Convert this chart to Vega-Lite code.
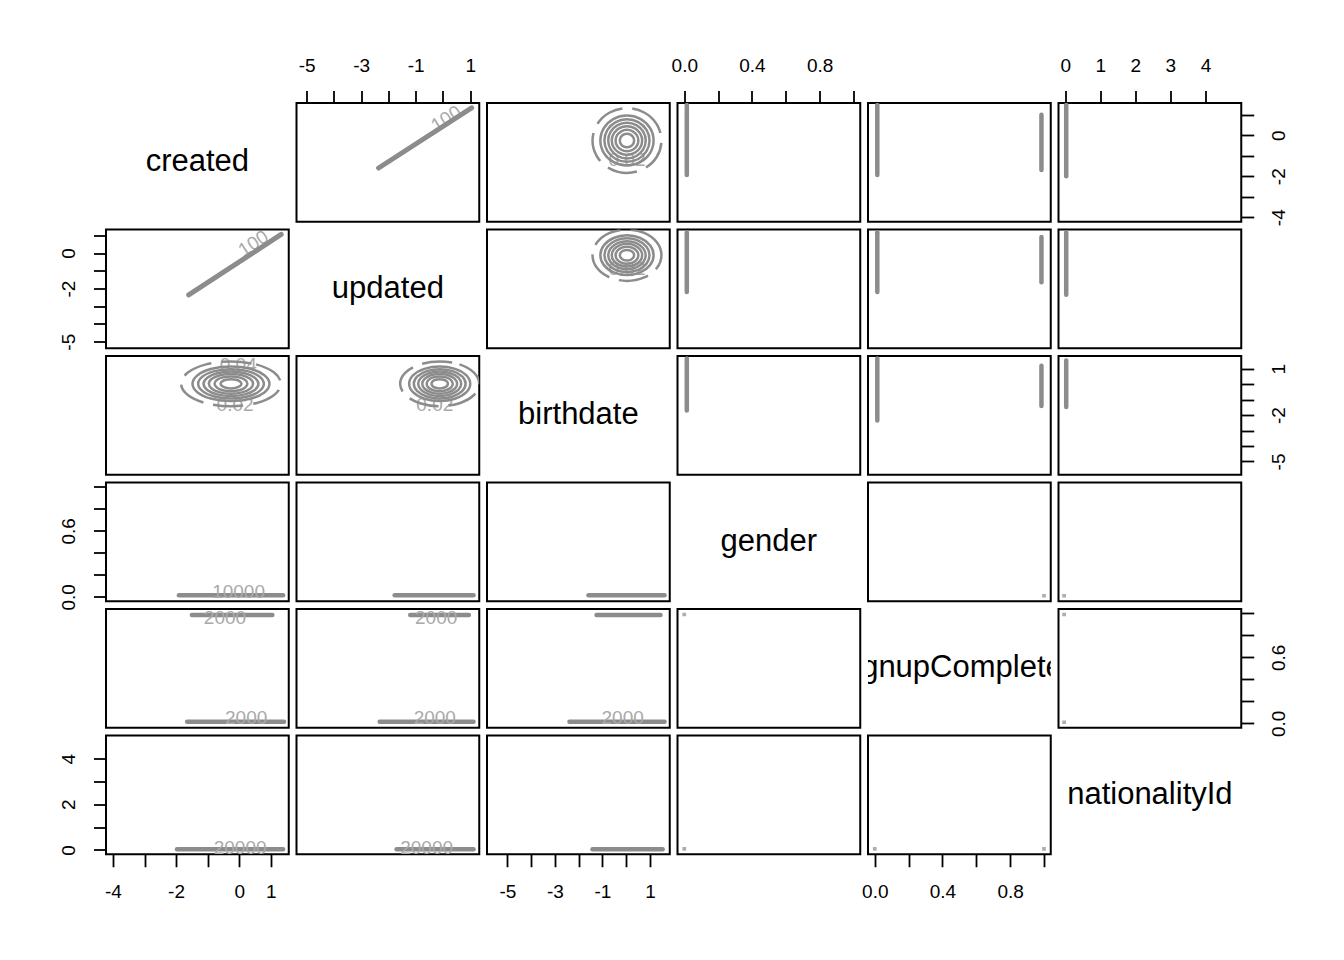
{
"$schema": "https://vega.github.io/schema/vega-lite/v6.json",
"background": "white",
"padding": {"left": 58, "top": 55, "right": 10, "bottom": 10},
"config": {
  "view": {"stroke": "black", "strokeWidth": 2},
  "axis": {"domain": false, "grid": false, "ticks": true, "tickColor": "black", "tickWidth": 1.8, "tickSize": 12.5, "labelFont": "Liberation Sans", "labelFontSize": 19, "labelColor": "black", "labelFlush": false, "labelOverlap": false}
},
"columns": 6,
"bounds": "flush",
"spacing": 7.5,
"resolve": {"scale": {"x": "independent", "y": "independent"}},
"datasets": {
  "vars": [{"name": "created"}, {"name": "updated"}, {"name": "birthdate"}, {"name": "gender"}, {"name": "signupCompleted"}, {"name": "nationalityId"}],
  "uc": [{"u": -2.36, "c": -1.6}, {"u": 1.05, "c": 1.33}],
  "rings_bc": [
    {"r":1,"i":0,"b":0.33,"c":-0.26},{"r":1,"i":1,"b":0.29,"c":-0.095},{"r":1,"i":2,"b":0.18,"c":0.026},{"r":1,"i":3,"b":0.03,"c":0.07},{"r":1,"i":4,"b":-0.12,"c":0.026},{"r":1,"i":5,"b":-0.23,"c":-0.095},{"r":1,"i":6,"b":-0.27,"c":-0.26},{"r":1,"i":7,"b":-0.23,"c":-0.425},{"r":1,"i":8,"b":-0.12,"c":-0.546},{"r":1,"i":9,"b":0.03,"c":-0.59},{"r":1,"i":10,"b":0.18,"c":-0.546},{"r":1,"i":11,"b":0.29,"c":-0.425},
    {"r":2,"i":0,"b":0.51,"c":-0.26},{"r":2,"i":1,"b":0.446,"c":0.0},{"r":2,"i":2,"b":0.27,"c":0.19},{"r":2,"i":3,"b":0.03,"c":0.26},{"r":2,"i":4,"b":-0.21,"c":0.19},{"r":2,"i":5,"b":-0.386,"c":0.0},{"r":2,"i":6,"b":-0.45,"c":-0.26},{"r":2,"i":7,"b":-0.386,"c":-0.52},{"r":2,"i":8,"b":-0.21,"c":-0.71},{"r":2,"i":9,"b":0.03,"c":-0.78},{"r":2,"i":10,"b":0.27,"c":-0.71},{"r":2,"i":11,"b":0.446,"c":-0.52},
    {"r":3,"i":0,"b":0.67,"c":-0.26},{"r":3,"i":1,"b":0.584,"c":0.09},{"r":3,"i":2,"b":0.35,"c":0.346},{"r":3,"i":3,"b":0.03,"c":0.44},{"r":3,"i":4,"b":-0.29,"c":0.346},{"r":3,"i":5,"b":-0.524,"c":0.09},{"r":3,"i":6,"b":-0.61,"c":-0.26},{"r":3,"i":7,"b":-0.524,"c":-0.61},{"r":3,"i":8,"b":-0.29,"c":-0.866},{"r":3,"i":9,"b":0.03,"c":-0.96},{"r":3,"i":10,"b":0.35,"c":-0.866},{"r":3,"i":11,"b":0.584,"c":-0.61},
    {"r":4,"i":0,"b":0.82,"c":-0.26},{"r":4,"i":1,"b":0.714,"c":0.175},{"r":4,"i":2,"b":0.425,"c":0.493},{"r":4,"i":3,"b":0.03,"c":0.61},{"r":4,"i":4,"b":-0.365,"c":0.493},{"r":4,"i":5,"b":-0.654,"c":0.175},{"r":4,"i":6,"b":-0.76,"c":-0.26},{"r":4,"i":7,"b":-0.654,"c":-0.695},{"r":4,"i":8,"b":-0.365,"c":-1.013},{"r":4,"i":9,"b":0.03,"c":-1.13},{"r":4,"i":10,"b":0.425,"c":-1.013},{"r":4,"i":11,"b":0.714,"c":-0.695},
    {"r":5,"i":0,"b":0.98,"c":-0.26},{"r":5,"i":1,"b":0.853,"c":0.26},{"r":5,"i":2,"b":0.505,"c":0.641},{"r":5,"i":3,"b":0.03,"c":0.78},{"r":5,"i":4,"b":-0.445,"c":0.641},{"r":5,"i":5,"b":-0.793,"c":0.26},{"r":5,"i":6,"b":-0.92,"c":-0.26},{"r":5,"i":7,"b":-0.793,"c":-0.78},{"r":5,"i":8,"b":-0.445,"c":-1.161},{"r":5,"i":9,"b":0.03,"c":-1.3},{"r":5,"i":10,"b":0.505,"c":-1.161},{"r":5,"i":11,"b":0.853,"c":-0.78},
    {"r":6,"i":0,"b":1.15,"c":-0.26},{"r":6,"i":1,"b":1.0,"c":0.35},{"r":6,"i":2,"b":0.59,"c":0.797},{"r":6,"i":3,"b":0.03,"c":0.96},{"r":6,"i":4,"b":-0.53,"c":0.797},{"r":6,"i":5,"b":-0.94,"c":0.35},{"r":6,"i":6,"b":-1.09,"c":-0.26},{"r":6,"i":7,"b":-0.94,"c":-0.87},{"r":6,"i":8,"b":-0.53,"c":-1.317},{"r":6,"i":9,"b":0.03,"c":-1.48},{"r":6,"i":10,"b":0.59,"c":-1.317},{"r":6,"i":11,"b":1.0,"c":-0.87},
    {"r":7,"i":0,"b":1.48,"c":-0.26},{"r":7,"i":1,"b":1.286,"c":0.53},{"r":7,"i":2,"b":0.755,"c":1.108},{"r":7,"i":3,"b":0.03,"c":1.32},{"r":7,"i":4,"b":-0.695,"c":1.108},{"r":7,"i":5,"b":-1.226,"c":0.53},{"r":7,"i":6,"b":-1.42,"c":-0.26},{"r":7,"i":7,"b":-1.226,"c":-1.05},{"r":7,"i":8,"b":-0.695,"c":-1.628},{"r":7,"i":9,"b":0.03,"c":-1.84},{"r":7,"i":10,"b":0.755,"c":-1.628},{"r":7,"i":11,"b":1.286,"c":-1.05}
  ],
  "rings_bu": [
    {"r":1,"i":0,"b":0.33,"u":-0.12},{"r":1,"i":1,"b":0.29,"u":0.03},{"r":1,"i":2,"b":0.18,"u":0.14},{"r":1,"i":3,"b":0.03,"u":0.18},{"r":1,"i":4,"b":-0.12,"u":0.14},{"r":1,"i":5,"b":-0.23,"u":0.03},{"r":1,"i":6,"b":-0.27,"u":-0.12},{"r":1,"i":7,"b":-0.23,"u":-0.27},{"r":1,"i":8,"b":-0.12,"u":-0.38},{"r":1,"i":9,"b":0.03,"u":-0.42},{"r":1,"i":10,"b":0.18,"u":-0.38},{"r":1,"i":11,"b":0.29,"u":-0.27},
    {"r":2,"i":0,"b":0.51,"u":-0.12},{"r":2,"i":1,"b":0.446,"u":0.12},{"r":2,"i":2,"b":0.27,"u":0.296},{"r":2,"i":3,"b":0.03,"u":0.36},{"r":2,"i":4,"b":-0.21,"u":0.296},{"r":2,"i":5,"b":-0.386,"u":0.12},{"r":2,"i":6,"b":-0.45,"u":-0.12},{"r":2,"i":7,"b":-0.386,"u":-0.36},{"r":2,"i":8,"b":-0.21,"u":-0.536},{"r":2,"i":9,"b":0.03,"u":-0.6},{"r":2,"i":10,"b":0.27,"u":-0.536},{"r":2,"i":11,"b":0.446,"u":-0.36},
    {"r":3,"i":0,"b":0.67,"u":-0.12},{"r":3,"i":1,"b":0.584,"u":0.2},{"r":3,"i":2,"b":0.35,"u":0.434},{"r":3,"i":3,"b":0.03,"u":0.52},{"r":3,"i":4,"b":-0.29,"u":0.434},{"r":3,"i":5,"b":-0.524,"u":0.2},{"r":3,"i":6,"b":-0.61,"u":-0.12},{"r":3,"i":7,"b":-0.524,"u":-0.44},{"r":3,"i":8,"b":-0.29,"u":-0.674},{"r":3,"i":9,"b":0.03,"u":-0.76},{"r":3,"i":10,"b":0.35,"u":-0.674},{"r":3,"i":11,"b":0.584,"u":-0.44},
    {"r":4,"i":0,"b":0.82,"u":-0.12},{"r":4,"i":1,"b":0.714,"u":0.275},{"r":4,"i":2,"b":0.425,"u":0.564},{"r":4,"i":3,"b":0.03,"u":0.67},{"r":4,"i":4,"b":-0.365,"u":0.564},{"r":4,"i":5,"b":-0.654,"u":0.275},{"r":4,"i":6,"b":-0.76,"u":-0.12},{"r":4,"i":7,"b":-0.654,"u":-0.515},{"r":4,"i":8,"b":-0.365,"u":-0.804},{"r":4,"i":9,"b":0.03,"u":-0.91},{"r":4,"i":10,"b":0.425,"u":-0.804},{"r":4,"i":11,"b":0.714,"u":-0.515},
    {"r":5,"i":0,"b":0.98,"u":-0.12},{"r":5,"i":1,"b":0.853,"u":0.355},{"r":5,"i":2,"b":0.505,"u":0.703},{"r":5,"i":3,"b":0.03,"u":0.83},{"r":5,"i":4,"b":-0.445,"u":0.703},{"r":5,"i":5,"b":-0.793,"u":0.355},{"r":5,"i":6,"b":-0.92,"u":-0.12},{"r":5,"i":7,"b":-0.793,"u":-0.595},{"r":5,"i":8,"b":-0.445,"u":-0.943},{"r":5,"i":9,"b":0.03,"u":-1.07},{"r":5,"i":10,"b":0.505,"u":-0.943},{"r":5,"i":11,"b":0.853,"u":-0.595},
    {"r":6,"i":0,"b":1.15,"u":-0.12},{"r":6,"i":1,"b":1.0,"u":0.44},{"r":6,"i":2,"b":0.59,"u":0.85},{"r":6,"i":3,"b":0.03,"u":1.0},{"r":6,"i":4,"b":-0.53,"u":0.85},{"r":6,"i":5,"b":-0.94,"u":0.44},{"r":6,"i":6,"b":-1.09,"u":-0.12},{"r":6,"i":7,"b":-0.94,"u":-0.68},{"r":6,"i":8,"b":-0.53,"u":-1.09},{"r":6,"i":9,"b":0.03,"u":-1.24},{"r":6,"i":10,"b":0.59,"u":-1.09},{"r":6,"i":11,"b":1.0,"u":-0.68},
    {"r":7,"i":0,"b":1.48,"u":-0.12},{"r":7,"i":1,"b":1.286,"u":0.605},{"r":7,"i":2,"b":0.755,"u":1.136},{"r":7,"i":3,"b":0.03,"u":1.33},{"r":7,"i":4,"b":-0.695,"u":1.136},{"r":7,"i":5,"b":-1.226,"u":0.605},{"r":7,"i":6,"b":-1.42,"u":-0.12},{"r":7,"i":7,"b":-1.226,"u":-0.845},{"r":7,"i":8,"b":-0.695,"u":-1.376},{"r":7,"i":9,"b":0.03,"u":-1.57},{"r":7,"i":10,"b":0.755,"u":-1.376},{"r":7,"i":11,"b":1.286,"u":-0.845}
  ],
  "blobs": [
    {"panel":"1-4","seg":1,"xv":0.015,"yv":-1.94},{"panel":"1-4","seg":1,"xv":0.015,"yv":1.47},
    {"panel":"1-5","seg":1,"xv":0.015,"yv":-1.94},{"panel":"1-5","seg":1,"xv":0.015,"yv":1.47},
    {"panel":"1-5","seg":2,"xv":0.985,"yv":-1.7},{"panel":"1-5","seg":2,"xv":0.985,"yv":1.0},
    {"panel":"1-6","seg":1,"xv":0.03,"yv":-2.0},{"panel":"1-6","seg":1,"xv":0.03,"yv":1.47},
    {"panel":"2-4","seg":1,"xv":0.015,"yv":-2.2},{"panel":"2-4","seg":1,"xv":0.015,"yv":1.18},
    {"panel":"2-5","seg":1,"xv":0.015,"yv":-2.2},{"panel":"2-5","seg":1,"xv":0.015,"yv":1.18},
    {"panel":"2-5","seg":2,"xv":0.985,"yv":-1.65},{"panel":"2-5","seg":2,"xv":0.985,"yv":0.9},
    {"panel":"2-6","seg":1,"xv":0.03,"yv":-2.35},{"panel":"2-6","seg":1,"xv":0.03,"yv":1.18},
    {"panel":"3-4","seg":1,"xv":0.015,"yv":-1.7},{"panel":"3-4","seg":1,"xv":0.015,"yv":1.67},
    {"panel":"3-5","seg":1,"xv":0.015,"yv":-2.35},{"panel":"3-5","seg":1,"xv":0.015,"yv":1.67},
    {"panel":"3-5","seg":2,"xv":0.985,"yv":-1.4},{"panel":"3-5","seg":2,"xv":0.985,"yv":1.2},
    {"panel":"3-6","seg":1,"xv":0.03,"yv":-1.47},{"panel":"3-6","seg":1,"xv":0.03,"yv":1.54},
    {"panel":"4-1","seg":1,"xv":-1.91,"yv":0.015},{"panel":"4-1","seg":1,"xv":1.39,"yv":0.015},
    {"panel":"4-2","seg":1,"xv":-1.77,"yv":0.015},{"panel":"4-2","seg":1,"xv":1.12,"yv":0.015},
    {"panel":"4-3","seg":1,"xv":-1.59,"yv":0.015},{"panel":"4-3","seg":1,"xv":1.61,"yv":0.015},
    {"panel":"5-1","seg":1,"xv":-1.5,"yv":0.985},{"panel":"5-1","seg":1,"xv":1.05,"yv":0.985},
    {"panel":"5-1","seg":2,"xv":-1.65,"yv":0.015},{"panel":"5-1","seg":2,"xv":1.42,"yv":0.015},
    {"panel":"5-2","seg":1,"xv":-1.2,"yv":0.985},{"panel":"5-2","seg":1,"xv":0.95,"yv":0.985},
    {"panel":"5-2","seg":2,"xv":-2.32,"yv":0.015},{"panel":"5-2","seg":2,"xv":1.12,"yv":0.015},
    {"panel":"5-3","seg":1,"xv":-1.25,"yv":0.985},{"panel":"5-3","seg":1,"xv":1.44,"yv":0.985},
    {"panel":"5-3","seg":2,"xv":-2.39,"yv":0.015},{"panel":"5-3","seg":2,"xv":1.61,"yv":0.015},
    {"panel":"6-1","seg":1,"xv":-1.97,"yv":0.03},{"panel":"6-1","seg":1,"xv":1.39,"yv":0.03},
    {"panel":"6-2","seg":1,"xv":-1.7,"yv":0.03},{"panel":"6-2","seg":1,"xv":1.12,"yv":0.03},
    {"panel":"6-3","seg":1,"xv":-1.42,"yv":0.03},{"panel":"6-3","seg":1,"xv":1.53,"yv":0.03}
  ],
  "dots": [
    {"panel":"4-5","xv":1.0,"yv":0.01},{"panel":"4-6","xv":-0.03,"yv":0.01},{"panel":"5-4","xv":0.0,"yv":0.99},
    {"panel":"5-6","xv":-0.03,"yv":0.99},{"panel":"5-6","xv":-0.03,"yv":0.01},{"panel":"6-4","xv":0.0,"yv":0.05},
    {"panel":"6-5","xv":0.0,"yv":0.05},{"panel":"6-5","xv":1.0,"yv":0.05}
  ],
  "clabels": [
    {"panel":"1-2","xv":0.12,"yv":0.8,"txt":"100"},
    {"panel":"2-1","xv":0.45,"yv":0.54,"txt":"100"},
    {"panel":"1-3","xv":0.03,"yv":-1.21,"txt":"0.02"},
    {"panel":"2-3","xv":0.03,"yv":-0.9,"txt":"0.02"},
    {"panel":"3-1","xv":-0.03,"yv":1.22,"txt":"0.04"},
    {"panel":"3-1","xv":-0.13,"yv":-1.37,"txt":"0.02"},
    {"panel":"3-2","xv":-0.3,"yv":-1.37,"txt":"0.02"},
    {"panel":"4-1","xv":-0.02,"yv":0.04,"txt":"10000"},
    {"panel":"5-1","xv":-0.45,"yv":0.955,"txt":"2000"},
    {"panel":"5-1","xv":0.22,"yv":0.05,"txt":"2000"},
    {"panel":"5-2","xv":-0.25,"yv":0.955,"txt":"2000"},
    {"panel":"5-2","xv":-0.3,"yv":0.05,"txt":"2000"},
    {"panel":"5-3","xv":-0.15,"yv":0.05,"txt":"2000"},
    {"panel":"6-1","xv":0.03,"yv":0.1,"txt":"20000"},
    {"panel":"6-2","xv":-0.6,"yv":0.1,"txt":"20000"}
  ]
},
"concat": [
  {"width":182.75,"height":118.75,"data":{"name":"vars"},"transform":[{"filter":"datum.name == 'created'"}],"mark":{"type":"text","fontSize":31,"font":"Liberation Sans","color":"black","baseline":"middle","clip":true},"encoding":{"text":{"field":"name","type":"nominal"}}},
  {"width":182.75,"height":118.75,"layer":[
    {"data":{"name":"clabels"},"transform":[{"filter":"datum.panel == '1-2'"}],"mark":{"type":"text","color":"#a9a9a9","fontSize":19,"font":"Liberation Sans","baseline":"middle","angle":327,"clip":true},"encoding":{"x":{"field":"xv","type":"quantitative","scale":{"domain":[-5.37,1.33],"nice":false,"zero":false},"axis":{"orient":"top","values":[-5,-4,-3,-2,-1,0,1],"labelExpr":"(datum.value == -5 || datum.value == -3 || datum.value == -1 || datum.value == 1) ? '' + datum.value : ''","labelBaseline":"bottom","labelAlign":"center","labelPadding":15,"title":null}},"y":{"field":"yv","type":"quantitative","scale":{"domain":[-4.22,1.57],"nice":false,"zero":false},"axis":null},"text":{"field":"txt","type":"nominal"}}},
    {"data":{"name":"uc"},"mark":{"type":"line","stroke":"#8c8c8c","strokeWidth":5,"strokeCap":"round","clip":true},"encoding":{"x":{"field":"u","type":"quantitative","scale":{"domain":[-5.37,1.33],"nice":false,"zero":false},"axis":{"orient":"top","values":[-5,-4,-3,-2,-1,0,1],"labelExpr":"(datum.value == -5 || datum.value == -3 || datum.value == -1 || datum.value == 1) ? '' + datum.value : ''","labelBaseline":"bottom","labelAlign":"center","labelPadding":15,"title":null}},"y":{"field":"c","type":"quantitative","scale":{"domain":[-4.22,1.57],"nice":false,"zero":false},"axis":null}}}
  ]},
  {"width":182.75,"height":118.75,"layer":[
    {"data":{"name":"clabels"},"transform":[{"filter":"datum.panel == '1-3'"}],"mark":{"type":"text","color":"#a9a9a9","fontSize":19,"font":"Liberation Sans","baseline":"middle","clip":true},"encoding":{"x":{"field":"xv","type":"quantitative","scale":{"domain":[-5.86,1.83],"nice":false,"zero":false},"axis":null},"y":{"field":"yv","type":"quantitative","scale":{"domain":[-4.22,1.57],"nice":false,"zero":false},"axis":null},"text":{"field":"txt","type":"nominal"}}},
    {"data":{"name":"rings_bc"},"transform":[{"filter":"datum.r < 7"}],"mark":{"type":"line","interpolate":"cardinal-closed","stroke":"#8c8c8c","strokeWidth":2.5,"clip":true},"encoding":{"x":{"field":"b","type":"quantitative","scale":{"domain":[-5.86,1.83],"nice":false,"zero":false},"axis":null},"y":{"field":"c","type":"quantitative","scale":{"domain":[-4.22,1.57],"nice":false,"zero":false},"axis":null},"detail":{"field":"r","type":"nominal"},"order":{"field":"i","type":"quantitative"}}},
    {"data":{"name":"rings_bc"},"transform":[{"filter":"datum.r == 7"}],"mark":{"type":"line","interpolate":"cardinal-closed","stroke":"#8c8c8c","strokeWidth":2.5,"strokeDash":[30,10],"clip":true},"encoding":{"x":{"field":"b","type":"quantitative","scale":{"domain":[-5.86,1.83],"nice":false,"zero":false},"axis":null},"y":{"field":"c","type":"quantitative","scale":{"domain":[-4.22,1.57],"nice":false,"zero":false},"axis":null},"detail":{"field":"r","type":"nominal"},"order":{"field":"i","type":"quantitative"}}}
  ]},
  {"width":182.75,"height":118.75,"data":{"name":"blobs"},"transform":[{"filter":"datum.panel == '1-4'"}],"mark":{"type":"line","stroke":"#8c8c8c","strokeWidth":4.5,"strokeCap":"round","clip":true},"encoding":{"x":{"field":"xv","type":"quantitative","scale":{"domain":[-0.04,1.04],"nice":false,"zero":false},"axis":{"orient":"top","values":[0,0.2,0.4,0.6,0.8,1],"labelExpr":"(datum.value == 0 || datum.value == 0.4 || datum.value == 0.8) ? format(datum.value, '.1f') : ''","labelBaseline":"bottom","labelAlign":"center","labelPadding":15,"title":null}},"y":{"field":"yv","type":"quantitative","scale":{"domain":[-4.22,1.57],"nice":false,"zero":false},"axis":null},"detail":{"field":"seg","type":"nominal"}}},
  {"width":182.75,"height":118.75,"data":{"name":"blobs"},"transform":[{"filter":"datum.panel == '1-5'"}],"mark":{"type":"line","stroke":"#8c8c8c","strokeWidth":4.5,"strokeCap":"round","clip":true},"encoding":{"x":{"field":"xv","type":"quantitative","scale":{"domain":[-0.04,1.04],"nice":false,"zero":false},"axis":null},"y":{"field":"yv","type":"quantitative","scale":{"domain":[-4.22,1.57],"nice":false,"zero":false},"axis":null},"detail":{"field":"seg","type":"nominal"}}},
  {"width":182.75,"height":118.75,"data":{"name":"blobs"},"transform":[{"filter":"datum.panel == '1-6'"}],"mark":{"type":"line","stroke":"#8c8c8c","strokeWidth":4.5,"strokeCap":"round","clip":true},"encoding":{"x":{"field":"xv","type":"quantitative","scale":{"domain":[-0.19,5.02],"nice":false,"zero":false},"axis":{"orient":"top","values":[0,1,2,3,4],"labelExpr":"'' + datum.value","labelBaseline":"bottom","labelAlign":"center","labelPadding":15,"title":null}},"y":{"field":"yv","type":"quantitative","scale":{"domain":[-4.22,1.57],"nice":false,"zero":false},"axis":{"orient":"right","values":[-4,-3,-2,-1,0,1],"labelExpr":"(datum.value == -4 || datum.value == -2 || datum.value == 0) ? '' + datum.value : ''","labelAngle":270,"labelAlign":"center","labelBaseline":"top","labelPadding":15.5,"title":null}},"detail":{"field":"seg","type":"nominal"}}},

  {"width":182.75,"height":118.75,"layer":[
    {"data":{"name":"clabels"},"transform":[{"filter":"datum.panel == '2-1'"}],"mark":{"type":"text","color":"#a9a9a9","fontSize":19,"font":"Liberation Sans","baseline":"middle","angle":327,"clip":true},"encoding":{"x":{"field":"xv","type":"quantitative","scale":{"domain":[-4.22,1.57],"nice":false,"zero":false},"axis":null},"y":{"field":"yv","type":"quantitative","scale":{"domain":[-5.37,1.33],"nice":false,"zero":false},"axis":{"orient":"left","values":[-5,-4,-3,-2,-1,0,1],"labelExpr":"(datum.value == -5 || datum.value == -2 || datum.value == 0) ? '' + datum.value : ''","labelAngle":270,"labelAlign":"center","labelBaseline":"bottom","labelPadding":15,"title":null}},"text":{"field":"txt","type":"nominal"}}},
    {"data":{"name":"uc"},"mark":{"type":"line","stroke":"#8c8c8c","strokeWidth":5,"strokeCap":"round","clip":true},"encoding":{"x":{"field":"c","type":"quantitative","scale":{"domain":[-4.22,1.57],"nice":false,"zero":false},"axis":null},"y":{"field":"u","type":"quantitative","scale":{"domain":[-5.37,1.33],"nice":false,"zero":false},"axis":{"orient":"left","values":[-5,-4,-3,-2,-1,0,1],"labelExpr":"(datum.value == -5 || datum.value == -2 || datum.value == 0) ? '' + datum.value : ''","labelAngle":270,"labelAlign":"center","labelBaseline":"bottom","labelPadding":15,"title":null}}}}
  ]},
  {"width":182.75,"height":118.75,"data":{"name":"vars"},"transform":[{"filter":"datum.name == 'updated'"}],"mark":{"type":"text","fontSize":31,"font":"Liberation Sans","color":"black","baseline":"middle","clip":true},"encoding":{"text":{"field":"name","type":"nominal"}}},
  {"width":182.75,"height":118.75,"layer":[
    {"data":{"name":"clabels"},"transform":[{"filter":"datum.panel == '2-3'"}],"mark":{"type":"text","color":"#a9a9a9","fontSize":19,"font":"Liberation Sans","baseline":"middle","clip":true},"encoding":{"x":{"field":"xv","type":"quantitative","scale":{"domain":[-5.86,1.83],"nice":false,"zero":false},"axis":null},"y":{"field":"yv","type":"quantitative","scale":{"domain":[-5.37,1.33],"nice":false,"zero":false},"axis":null},"text":{"field":"txt","type":"nominal"}}},
    {"data":{"name":"rings_bu"},"transform":[{"filter":"datum.r < 7"}],"mark":{"type":"line","interpolate":"cardinal-closed","stroke":"#8c8c8c","strokeWidth":2.5,"clip":true},"encoding":{"x":{"field":"b","type":"quantitative","scale":{"domain":[-5.86,1.83],"nice":false,"zero":false},"axis":null},"y":{"field":"u","type":"quantitative","scale":{"domain":[-5.37,1.33],"nice":false,"zero":false},"axis":null},"detail":{"field":"r","type":"nominal"},"order":{"field":"i","type":"quantitative"}}},
    {"data":{"name":"rings_bu"},"transform":[{"filter":"datum.r == 7"}],"mark":{"type":"line","interpolate":"cardinal-closed","stroke":"#8c8c8c","strokeWidth":2.5,"strokeDash":[30,10],"clip":true},"encoding":{"x":{"field":"b","type":"quantitative","scale":{"domain":[-5.86,1.83],"nice":false,"zero":false},"axis":null},"y":{"field":"u","type":"quantitative","scale":{"domain":[-5.37,1.33],"nice":false,"zero":false},"axis":null},"detail":{"field":"r","type":"nominal"},"order":{"field":"i","type":"quantitative"}}}
  ]},
  {"width":182.75,"height":118.75,"data":{"name":"blobs"},"transform":[{"filter":"datum.panel == '2-4'"}],"mark":{"type":"line","stroke":"#8c8c8c","strokeWidth":4.5,"strokeCap":"round","clip":true},"encoding":{"x":{"field":"xv","type":"quantitative","scale":{"domain":[-0.04,1.04],"nice":false,"zero":false},"axis":null},"y":{"field":"yv","type":"quantitative","scale":{"domain":[-5.37,1.33],"nice":false,"zero":false},"axis":null},"detail":{"field":"seg","type":"nominal"}}},
  {"width":182.75,"height":118.75,"data":{"name":"blobs"},"transform":[{"filter":"datum.panel == '2-5'"}],"mark":{"type":"line","stroke":"#8c8c8c","strokeWidth":4.5,"strokeCap":"round","clip":true},"encoding":{"x":{"field":"xv","type":"quantitative","scale":{"domain":[-0.04,1.04],"nice":false,"zero":false},"axis":null},"y":{"field":"yv","type":"quantitative","scale":{"domain":[-5.37,1.33],"nice":false,"zero":false},"axis":null},"detail":{"field":"seg","type":"nominal"}}},
  {"width":182.75,"height":118.75,"data":{"name":"blobs"},"transform":[{"filter":"datum.panel == '2-6'"}],"mark":{"type":"line","stroke":"#8c8c8c","strokeWidth":4.5,"strokeCap":"round","clip":true},"encoding":{"x":{"field":"xv","type":"quantitative","scale":{"domain":[-0.19,5.02],"nice":false,"zero":false},"axis":null},"y":{"field":"yv","type":"quantitative","scale":{"domain":[-5.37,1.33],"nice":false,"zero":false},"axis":null},"detail":{"field":"seg","type":"nominal"}}},

  {"width":182.75,"height":118.75,"layer":[
    {"data":{"name":"clabels"},"transform":[{"filter":"datum.panel == '3-1'"}],"mark":{"type":"text","color":"#a9a9a9","fontSize":19,"font":"Liberation Sans","baseline":"middle","clip":true},"encoding":{"x":{"field":"xv","type":"quantitative","scale":{"domain":[-4.22,1.57],"nice":false,"zero":false},"axis":null},"y":{"field":"yv","type":"quantitative","scale":{"domain":[-5.86,1.83],"nice":false,"zero":false},"axis":null},"text":{"field":"txt","type":"nominal"}}},
    {"data":{"name":"rings_bc"},"transform":[{"filter":"datum.r < 7"}],"mark":{"type":"line","interpolate":"cardinal-closed","stroke":"#8c8c8c","strokeWidth":2.5,"clip":true},"encoding":{"x":{"field":"c","type":"quantitative","scale":{"domain":[-4.22,1.57],"nice":false,"zero":false},"axis":null},"y":{"field":"b","type":"quantitative","scale":{"domain":[-5.86,1.83],"nice":false,"zero":false},"axis":null},"detail":{"field":"r","type":"nominal"},"order":{"field":"i","type":"quantitative"}}},
    {"data":{"name":"rings_bc"},"transform":[{"filter":"datum.r == 7"}],"mark":{"type":"line","interpolate":"cardinal-closed","stroke":"#8c8c8c","strokeWidth":2.5,"strokeDash":[30,10],"clip":true},"encoding":{"x":{"field":"c","type":"quantitative","scale":{"domain":[-4.22,1.57],"nice":false,"zero":false},"axis":null},"y":{"field":"b","type":"quantitative","scale":{"domain":[-5.86,1.83],"nice":false,"zero":false},"axis":null},"detail":{"field":"r","type":"nominal"},"order":{"field":"i","type":"quantitative"}}}
  ]},
  {"width":182.75,"height":118.75,"layer":[
    {"data":{"name":"clabels"},"transform":[{"filter":"datum.panel == '3-2'"}],"mark":{"type":"text","color":"#a9a9a9","fontSize":19,"font":"Liberation Sans","baseline":"middle","clip":true},"encoding":{"x":{"field":"xv","type":"quantitative","scale":{"domain":[-5.37,1.33],"nice":false,"zero":false},"axis":null},"y":{"field":"yv","type":"quantitative","scale":{"domain":[-5.86,1.83],"nice":false,"zero":false},"axis":null},"text":{"field":"txt","type":"nominal"}}},
    {"data":{"name":"rings_bu"},"transform":[{"filter":"datum.r < 7"}],"mark":{"type":"line","interpolate":"cardinal-closed","stroke":"#8c8c8c","strokeWidth":2.5,"clip":true},"encoding":{"x":{"field":"u","type":"quantitative","scale":{"domain":[-5.37,1.33],"nice":false,"zero":false},"axis":null},"y":{"field":"b","type":"quantitative","scale":{"domain":[-5.86,1.83],"nice":false,"zero":false},"axis":null},"detail":{"field":"r","type":"nominal"},"order":{"field":"i","type":"quantitative"}}},
    {"data":{"name":"rings_bu"},"transform":[{"filter":"datum.r == 7"}],"mark":{"type":"line","interpolate":"cardinal-closed","stroke":"#8c8c8c","strokeWidth":2.5,"strokeDash":[30,10],"clip":true},"encoding":{"x":{"field":"u","type":"quantitative","scale":{"domain":[-5.37,1.33],"nice":false,"zero":false},"axis":null},"y":{"field":"b","type":"quantitative","scale":{"domain":[-5.86,1.83],"nice":false,"zero":false},"axis":null},"detail":{"field":"r","type":"nominal"},"order":{"field":"i","type":"quantitative"}}}
  ]},
  {"width":182.75,"height":118.75,"data":{"name":"vars"},"transform":[{"filter":"datum.name == 'birthdate'"}],"mark":{"type":"text","fontSize":31,"font":"Liberation Sans","color":"black","baseline":"middle","clip":true},"encoding":{"text":{"field":"name","type":"nominal"}}},
  {"width":182.75,"height":118.75,"data":{"name":"blobs"},"transform":[{"filter":"datum.panel == '3-4'"}],"mark":{"type":"line","stroke":"#8c8c8c","strokeWidth":4.5,"strokeCap":"round","clip":true},"encoding":{"x":{"field":"xv","type":"quantitative","scale":{"domain":[-0.04,1.04],"nice":false,"zero":false},"axis":null},"y":{"field":"yv","type":"quantitative","scale":{"domain":[-5.86,1.83],"nice":false,"zero":false},"axis":null},"detail":{"field":"seg","type":"nominal"}}},
  {"width":182.75,"height":118.75,"data":{"name":"blobs"},"transform":[{"filter":"datum.panel == '3-5'"}],"mark":{"type":"line","stroke":"#8c8c8c","strokeWidth":4.5,"strokeCap":"round","clip":true},"encoding":{"x":{"field":"xv","type":"quantitative","scale":{"domain":[-0.04,1.04],"nice":false,"zero":false},"axis":null},"y":{"field":"yv","type":"quantitative","scale":{"domain":[-5.86,1.83],"nice":false,"zero":false},"axis":null},"detail":{"field":"seg","type":"nominal"}}},
  {"width":182.75,"height":118.75,"data":{"name":"blobs"},"transform":[{"filter":"datum.panel == '3-6'"}],"mark":{"type":"line","stroke":"#8c8c8c","strokeWidth":4.5,"strokeCap":"round","clip":true},"encoding":{"x":{"field":"xv","type":"quantitative","scale":{"domain":[-0.19,5.02],"nice":false,"zero":false},"axis":null},"y":{"field":"yv","type":"quantitative","scale":{"domain":[-5.86,1.83],"nice":false,"zero":false},"axis":{"orient":"right","values":[-5,-4,-3,-2,-1,0,1],"labelExpr":"(datum.value == -5 || datum.value == -2 || datum.value == 1) ? '' + datum.value : ''","labelAngle":270,"labelAlign":"center","labelBaseline":"top","labelPadding":15.5,"title":null}},"detail":{"field":"seg","type":"nominal"}}},

  {"width":182.75,"height":118.75,"layer":[
    {"data":{"name":"blobs"},"transform":[{"filter":"datum.panel == '4-1'"}],"mark":{"type":"line","stroke":"#8c8c8c","strokeWidth":4.5,"strokeCap":"round","clip":true},"encoding":{"x":{"field":"xv","type":"quantitative","scale":{"domain":[-4.22,1.57],"nice":false,"zero":false},"axis":null},"y":{"field":"yv","type":"quantitative","scale":{"domain":[-0.04,1.04],"nice":false,"zero":false},"axis":{"orient":"left","values":[0,0.2,0.4,0.6,0.8,1],"labelExpr":"(datum.value == 0 || datum.value == 0.6) ? format(datum.value, '.1f') : ''","labelAngle":270,"labelAlign":"center","labelBaseline":"bottom","labelPadding":15,"title":null}},"detail":{"field":"seg","type":"nominal"}}},
    {"data":{"name":"clabels"},"transform":[{"filter":"datum.panel == '4-1'"}],"mark":{"type":"text","color":"#a9a9a9","fontSize":19,"font":"Liberation Sans","baseline":"middle","clip":true},"encoding":{"x":{"field":"xv","type":"quantitative","scale":{"domain":[-4.22,1.57],"nice":false,"zero":false},"axis":null},"y":{"field":"yv","type":"quantitative","scale":{"domain":[-0.04,1.04],"nice":false,"zero":false},"axis":{"orient":"left","values":[0,0.2,0.4,0.6,0.8,1],"labelExpr":"(datum.value == 0 || datum.value == 0.6) ? format(datum.value, '.1f') : ''","labelAngle":270,"labelAlign":"center","labelBaseline":"bottom","labelPadding":15,"title":null}},"text":{"field":"txt","type":"nominal"}}}
  ]},
  {"width":182.75,"height":118.75,"data":{"name":"blobs"},"transform":[{"filter":"datum.panel == '4-2'"}],"mark":{"type":"line","stroke":"#8c8c8c","strokeWidth":4.5,"strokeCap":"round","clip":true},"encoding":{"x":{"field":"xv","type":"quantitative","scale":{"domain":[-5.37,1.33],"nice":false,"zero":false},"axis":null},"y":{"field":"yv","type":"quantitative","scale":{"domain":[-0.04,1.04],"nice":false,"zero":false},"axis":null},"detail":{"field":"seg","type":"nominal"}}},
  {"width":182.75,"height":118.75,"data":{"name":"blobs"},"transform":[{"filter":"datum.panel == '4-3'"}],"mark":{"type":"line","stroke":"#8c8c8c","strokeWidth":4.5,"strokeCap":"round","clip":true},"encoding":{"x":{"field":"xv","type":"quantitative","scale":{"domain":[-5.86,1.83],"nice":false,"zero":false},"axis":null},"y":{"field":"yv","type":"quantitative","scale":{"domain":[-0.04,1.04],"nice":false,"zero":false},"axis":null},"detail":{"field":"seg","type":"nominal"}}},
  {"width":182.75,"height":118.75,"data":{"name":"vars"},"transform":[{"filter":"datum.name == 'gender'"}],"mark":{"type":"text","fontSize":31,"font":"Liberation Sans","color":"black","baseline":"middle","clip":true},"encoding":{"text":{"field":"name","type":"nominal"}}},
  {"width":182.75,"height":118.75,"data":{"name":"dots"},"transform":[{"filter":"datum.panel == '4-5'"}],"mark":{"type":"point","shape":"square","filled":true,"color":"#8c8c8c","size":14,"clip":true},"encoding":{"x":{"field":"xv","type":"quantitative","scale":{"domain":[-0.04,1.04],"nice":false,"zero":false},"axis":null},"y":{"field":"yv","type":"quantitative","scale":{"domain":[-0.04,1.04],"nice":false,"zero":false},"axis":null}}},
  {"width":182.75,"height":118.75,"data":{"name":"dots"},"transform":[{"filter":"datum.panel == '4-6'"}],"mark":{"type":"point","shape":"square","filled":true,"color":"#8c8c8c","size":14,"clip":true},"encoding":{"x":{"field":"xv","type":"quantitative","scale":{"domain":[-0.19,5.02],"nice":false,"zero":false},"axis":null},"y":{"field":"yv","type":"quantitative","scale":{"domain":[-0.04,1.04],"nice":false,"zero":false},"axis":null}}},

  {"width":182.75,"height":118.75,"layer":[
    {"data":{"name":"blobs"},"transform":[{"filter":"datum.panel == '5-1'"}],"mark":{"type":"line","stroke":"#8c8c8c","strokeWidth":4.5,"strokeCap":"round","clip":true},"encoding":{"x":{"field":"xv","type":"quantitative","scale":{"domain":[-4.22,1.57],"nice":false,"zero":false},"axis":null},"y":{"field":"yv","type":"quantitative","scale":{"domain":[-0.04,1.04],"nice":false,"zero":false},"axis":null},"detail":{"field":"seg","type":"nominal"}}},
    {"data":{"name":"clabels"},"transform":[{"filter":"datum.panel == '5-1'"}],"mark":{"type":"text","color":"#a9a9a9","fontSize":19,"font":"Liberation Sans","baseline":"middle","clip":true},"encoding":{"x":{"field":"xv","type":"quantitative","scale":{"domain":[-4.22,1.57],"nice":false,"zero":false},"axis":null},"y":{"field":"yv","type":"quantitative","scale":{"domain":[-0.04,1.04],"nice":false,"zero":false},"axis":null},"text":{"field":"txt","type":"nominal"}}}
  ]},
  {"width":182.75,"height":118.75,"layer":[
    {"data":{"name":"blobs"},"transform":[{"filter":"datum.panel == '5-2'"}],"mark":{"type":"line","stroke":"#8c8c8c","strokeWidth":4.5,"strokeCap":"round","clip":true},"encoding":{"x":{"field":"xv","type":"quantitative","scale":{"domain":[-5.37,1.33],"nice":false,"zero":false},"axis":null},"y":{"field":"yv","type":"quantitative","scale":{"domain":[-0.04,1.04],"nice":false,"zero":false},"axis":null},"detail":{"field":"seg","type":"nominal"}}},
    {"data":{"name":"clabels"},"transform":[{"filter":"datum.panel == '5-2'"}],"mark":{"type":"text","color":"#a9a9a9","fontSize":19,"font":"Liberation Sans","baseline":"middle","clip":true},"encoding":{"x":{"field":"xv","type":"quantitative","scale":{"domain":[-5.37,1.33],"nice":false,"zero":false},"axis":null},"y":{"field":"yv","type":"quantitative","scale":{"domain":[-0.04,1.04],"nice":false,"zero":false},"axis":null},"text":{"field":"txt","type":"nominal"}}}
  ]},
  {"width":182.75,"height":118.75,"layer":[
    {"data":{"name":"blobs"},"transform":[{"filter":"datum.panel == '5-3'"}],"mark":{"type":"line","stroke":"#8c8c8c","strokeWidth":4.5,"strokeCap":"round","clip":true},"encoding":{"x":{"field":"xv","type":"quantitative","scale":{"domain":[-5.86,1.83],"nice":false,"zero":false},"axis":null},"y":{"field":"yv","type":"quantitative","scale":{"domain":[-0.04,1.04],"nice":false,"zero":false},"axis":null},"detail":{"field":"seg","type":"nominal"}}},
    {"data":{"name":"clabels"},"transform":[{"filter":"datum.panel == '5-3'"}],"mark":{"type":"text","color":"#a9a9a9","fontSize":19,"font":"Liberation Sans","baseline":"middle","clip":true},"encoding":{"x":{"field":"xv","type":"quantitative","scale":{"domain":[-5.86,1.83],"nice":false,"zero":false},"axis":null},"y":{"field":"yv","type":"quantitative","scale":{"domain":[-0.04,1.04],"nice":false,"zero":false},"axis":null},"text":{"field":"txt","type":"nominal"}}}
  ]},
  {"width":182.75,"height":118.75,"data":{"name":"dots"},"transform":[{"filter":"datum.panel == '5-4'"}],"mark":{"type":"point","shape":"square","filled":true,"color":"#8c8c8c","size":14,"clip":true},"encoding":{"x":{"field":"xv","type":"quantitative","scale":{"domain":[-0.04,1.04],"nice":false,"zero":false},"axis":null},"y":{"field":"yv","type":"quantitative","scale":{"domain":[-0.04,1.04],"nice":false,"zero":false},"axis":null}}},
  {"width":182.75,"height":118.75,"data":{"name":"vars"},"transform":[{"filter":"datum.name == 'signupCompleted'"}],"mark":{"type":"text","fontSize":31,"font":"Liberation Sans","color":"black","baseline":"middle","clip":true},"encoding":{"text":{"field":"name","type":"nominal"}}},
  {"width":182.75,"height":118.75,"data":{"name":"dots"},"transform":[{"filter":"datum.panel == '5-6'"}],"mark":{"type":"point","shape":"square","filled":true,"color":"#8c8c8c","size":14,"clip":true},"encoding":{"x":{"field":"xv","type":"quantitative","scale":{"domain":[-0.19,5.02],"nice":false,"zero":false},"axis":null},"y":{"field":"yv","type":"quantitative","scale":{"domain":[-0.04,1.04],"nice":false,"zero":false},"axis":{"orient":"right","values":[0,0.2,0.4,0.6,0.8,1],"labelExpr":"(datum.value == 0 || datum.value == 0.6) ? format(datum.value, '.1f') : ''","labelAngle":270,"labelAlign":"center","labelBaseline":"top","labelPadding":15.5,"title":null}}}},

  {"width":182.75,"height":118.75,"layer":[
    {"data":{"name":"blobs"},"transform":[{"filter":"datum.panel == '6-1'"}],"mark":{"type":"line","stroke":"#8c8c8c","strokeWidth":4.5,"strokeCap":"round","clip":true},"encoding":{"x":{"field":"xv","type":"quantitative","scale":{"domain":[-4.22,1.57],"nice":false,"zero":false},"axis":{"orient":"bottom","values":[-4,-3,-2,-1,0,1],"labelExpr":"(datum.value == -4 || datum.value == -2 || datum.value == 0 || datum.value == 1) ? '' + datum.value : ''","labelBaseline":"top","labelAlign":"center","labelPadding":16,"title":null}},"y":{"field":"yv","type":"quantitative","scale":{"domain":[-0.19,5.02],"nice":false,"zero":false},"axis":{"orient":"left","values":[0,1,2,3,4],"labelExpr":"(datum.value == 0 || datum.value == 2 || datum.value == 4) ? '' + datum.value : ''","labelAngle":270,"labelAlign":"center","labelBaseline":"bottom","labelPadding":15,"title":null}},"detail":{"field":"seg","type":"nominal"}}},
    {"data":{"name":"clabels"},"transform":[{"filter":"datum.panel == '6-1'"}],"mark":{"type":"text","color":"#a9a9a9","fontSize":19,"font":"Liberation Sans","baseline":"middle","clip":true},"encoding":{"x":{"field":"xv","type":"quantitative","scale":{"domain":[-4.22,1.57],"nice":false,"zero":false},"axis":{"orient":"bottom","values":[-4,-3,-2,-1,0,1],"labelExpr":"(datum.value == -4 || datum.value == -2 || datum.value == 0 || datum.value == 1) ? '' + datum.value : ''","labelBaseline":"top","labelAlign":"center","labelPadding":16,"title":null}},"y":{"field":"yv","type":"quantitative","scale":{"domain":[-0.19,5.02],"nice":false,"zero":false},"axis":{"orient":"left","values":[0,1,2,3,4],"labelExpr":"(datum.value == 0 || datum.value == 2 || datum.value == 4) ? '' + datum.value : ''","labelAngle":270,"labelAlign":"center","labelBaseline":"bottom","labelPadding":15,"title":null}},"text":{"field":"txt","type":"nominal"}}}
  ]},
  {"width":182.75,"height":118.75,"layer":[
    {"data":{"name":"blobs"},"transform":[{"filter":"datum.panel == '6-2'"}],"mark":{"type":"line","stroke":"#8c8c8c","strokeWidth":4.5,"strokeCap":"round","clip":true},"encoding":{"x":{"field":"xv","type":"quantitative","scale":{"domain":[-5.37,1.33],"nice":false,"zero":false},"axis":null},"y":{"field":"yv","type":"quantitative","scale":{"domain":[-0.19,5.02],"nice":false,"zero":false},"axis":null},"detail":{"field":"seg","type":"nominal"}}},
    {"data":{"name":"clabels"},"transform":[{"filter":"datum.panel == '6-2'"}],"mark":{"type":"text","color":"#a9a9a9","fontSize":19,"font":"Liberation Sans","baseline":"middle","clip":true},"encoding":{"x":{"field":"xv","type":"quantitative","scale":{"domain":[-5.37,1.33],"nice":false,"zero":false},"axis":null},"y":{"field":"yv","type":"quantitative","scale":{"domain":[-0.19,5.02],"nice":false,"zero":false},"axis":null},"text":{"field":"txt","type":"nominal"}}}
  ]},
  {"width":182.75,"height":118.75,"data":{"name":"blobs"},"transform":[{"filter":"datum.panel == '6-3'"}],"mark":{"type":"line","stroke":"#8c8c8c","strokeWidth":4.5,"strokeCap":"round","clip":true},"encoding":{"x":{"field":"xv","type":"quantitative","scale":{"domain":[-5.86,1.83],"nice":false,"zero":false},"axis":{"orient":"bottom","values":[-5,-4,-3,-2,-1,0,1],"labelExpr":"(datum.value == -5 || datum.value == -3 || datum.value == -1 || datum.value == 1) ? '' + datum.value : ''","labelBaseline":"top","labelAlign":"center","labelPadding":16,"title":null}},"y":{"field":"yv","type":"quantitative","scale":{"domain":[-0.19,5.02],"nice":false,"zero":false},"axis":null},"detail":{"field":"seg","type":"nominal"}}},
  {"width":182.75,"height":118.75,"data":{"name":"dots"},"transform":[{"filter":"datum.panel == '6-4'"}],"mark":{"type":"point","shape":"square","filled":true,"color":"#8c8c8c","size":14,"clip":true},"encoding":{"x":{"field":"xv","type":"quantitative","scale":{"domain":[-0.04,1.04],"nice":false,"zero":false},"axis":null},"y":{"field":"yv","type":"quantitative","scale":{"domain":[-0.19,5.02],"nice":false,"zero":false},"axis":null}}},
  {"width":182.75,"height":118.75,"data":{"name":"dots"},"transform":[{"filter":"datum.panel == '6-5'"}],"mark":{"type":"point","shape":"square","filled":true,"color":"#8c8c8c","size":14,"clip":true},"encoding":{"x":{"field":"xv","type":"quantitative","scale":{"domain":[-0.04,1.04],"nice":false,"zero":false},"axis":{"orient":"bottom","values":[0,0.2,0.4,0.6,0.8,1],"labelExpr":"(datum.value == 0 || datum.value == 0.4 || datum.value == 0.8) ? format(datum.value, '.1f') : ''","labelBaseline":"top","labelAlign":"center","labelPadding":16,"title":null}},"y":{"field":"yv","type":"quantitative","scale":{"domain":[-0.19,5.02],"nice":false,"zero":false},"axis":null}}},
  {"width":182.75,"height":118.75,"data":{"name":"vars"},"transform":[{"filter":"datum.name == 'nationalityId'"}],"mark":{"type":"text","fontSize":31,"font":"Liberation Sans","color":"black","baseline":"middle","clip":true},"encoding":{"text":{"field":"name","type":"nominal"}}}
]
}
